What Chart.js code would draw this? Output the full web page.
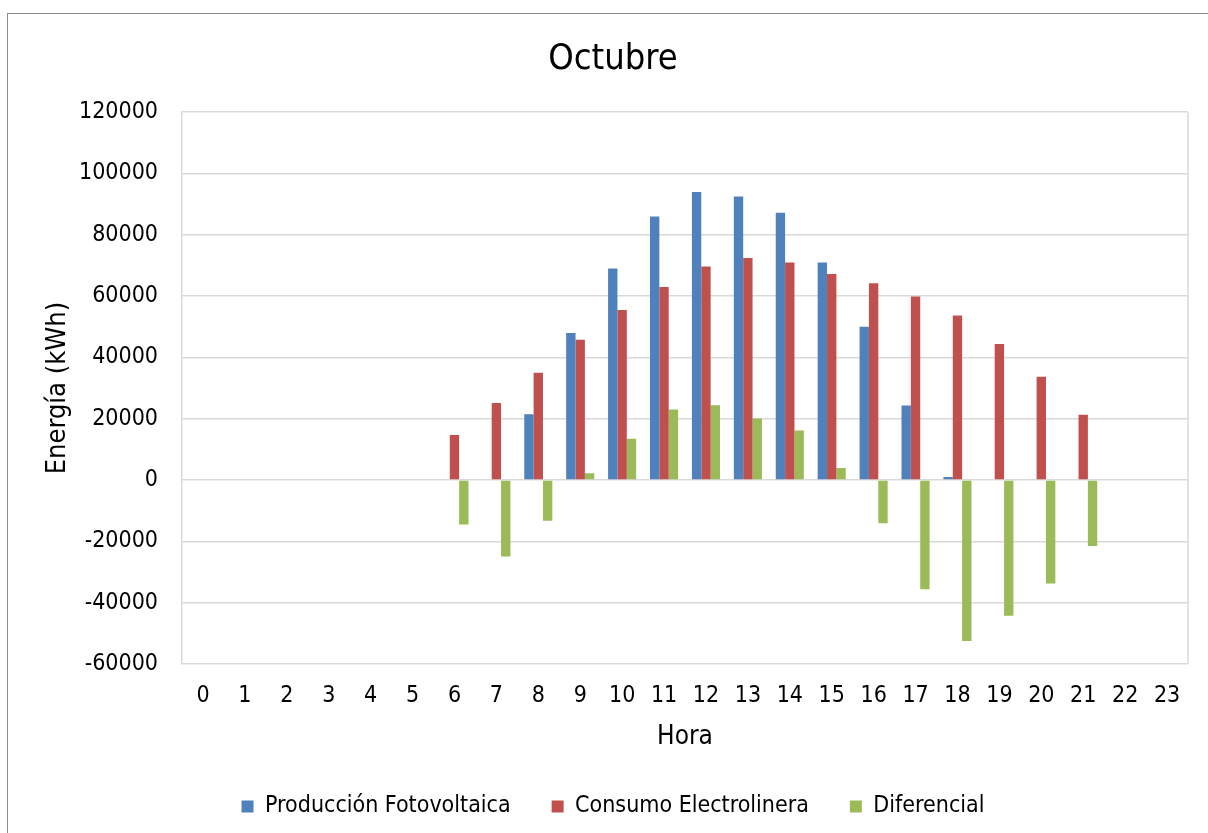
<!DOCTYPE html>
<html lang="es">
<head>
<meta charset="UTF-8">
<title>Octubre</title>
<script src="https://cdn.jsdelivr.net/npm/chart.js"></script>
<style>
  html, body { margin: 0; padding: 0; background: #fff; overflow: hidden; }
  .marco { position: absolute; left: 7px; top: 13px; width: 1260px; height: 900px; border: 1px solid #8a8a8a; }
  .lienzo { position: absolute; left: 0; top: 0; }
</style>
</head>
<body>
<div class="marco"></div>
<div class="lienzo"><canvas id="grafico" width="1208" height="833"></canvas></div>

<script>
// Datos (kWh por hora)
const horas = ["0","1","2","3","4","5","6","7","8","9","10","11","12","13","14","15","16","17","18","19","20","21","22","23"];
const produccion = [0,0,0,0,0,0,0,0,21500,48000,69000,86000,94000,92500,87200,71000,50000,24300,1000,0,0,0,0,0];
const consumo = [0,0,0,0,0,0,14700,25100,35000,45800,55500,63000,69700,72400,71000,67200,64200,59900,53700,44400,33700,21300,0,0];
const diferencial = [0,0,0,0,0,0,-14500,-24900,-13300,2200,13500,23000,24400,20100,16200,3900,-14100,-35600,-52500,-44300,-33700,-21500,0,0];

const fuente = "'DejaVu Sans Condensed', 'DejaVu Sans', sans-serif";
const colorRejilla = "#d9d9d9";

// marco derecho del área de trazado
const marcoArea = {
  id: "marcoArea",
  afterDraw(chart) {
    const { ctx, chartArea } = chart;
    ctx.save();
    ctx.strokeStyle = colorRejilla;
    ctx.lineWidth = 1.5;
    ctx.beginPath();
    ctx.moveTo(chartArea.right, chartArea.top);
    ctx.lineTo(chartArea.right, chartArea.bottom);
    ctx.stroke();
    ctx.restore();
  }
};

new Chart(document.getElementById("grafico"), {
  type: "bar",
  data: {
    labels: horas,
    datasets: [
      { label: "Producción Fotovoltaica", data: produccion, backgroundColor: "#4f81bd" },
      { label: "Consumo Electrolinera", data: consumo, backgroundColor: "#c0504d" },
      { label: "Diferencial", data: diferencial, backgroundColor: "#9bbb59" }
    ]
  },
  options: {
    responsive: false,
    animation: false,
    datasets: { bar: { categoryPercentage: 0.67, barPercentage: 1.0 } },
    layout: { padding: { top: 0, left: 38, right: 20, bottom: 5 } },
    plugins: {
      title: {
        display: true,
        text: "Octubre",
        color: "#000",
        font: { family: fuente, size: 36, weight: "normal" },
        padding: { top: 38, bottom: 31 }
      },
      legend: {
        position: "bottom",
        labels: {
          color: "#000",
          font: { family: fuente, size: 23 },
          boxWidth: 12,
          boxHeight: 12,
          padding: 41
        }
      },
      tooltip: { enabled: false }
    },
    scales: {
      x: {
        grid: { display: false },
        border: { display: false },
        ticks: { color: "#000", font: { family: fuente, size: 23 }, padding: 10, maxRotation: 0 },
        title: { display: true, text: "Hora", color: "#000", font: { family: fuente, size: 26 }, padding: { top: 4, bottom: 1 } },
        afterFit(scale) { scale.height = 90; }
      },
      y: {
        min: -60000,
        max: 120000,
        grid: { color: colorRejilla, lineWidth: 1.5, drawTicks: false },
        border: { display: true, color: colorRejilla, width: 1.5 },
        ticks: {
          stepSize: 20000,
          color: "#000",
          font: { family: fuente, size: 23 },
          padding: 24,
          callback: (v) => String(v)
        },
        title: { display: true, text: "Energía (kWh)", color: "#000", font: { family: fuente, size: 27 }, padding: { top: 4, bottom: 0 } },
        afterFit(scale) { scale.width = 144; }
      }
    }
  },
  plugins: [marcoArea]
});
</script>
</body>
</html>
